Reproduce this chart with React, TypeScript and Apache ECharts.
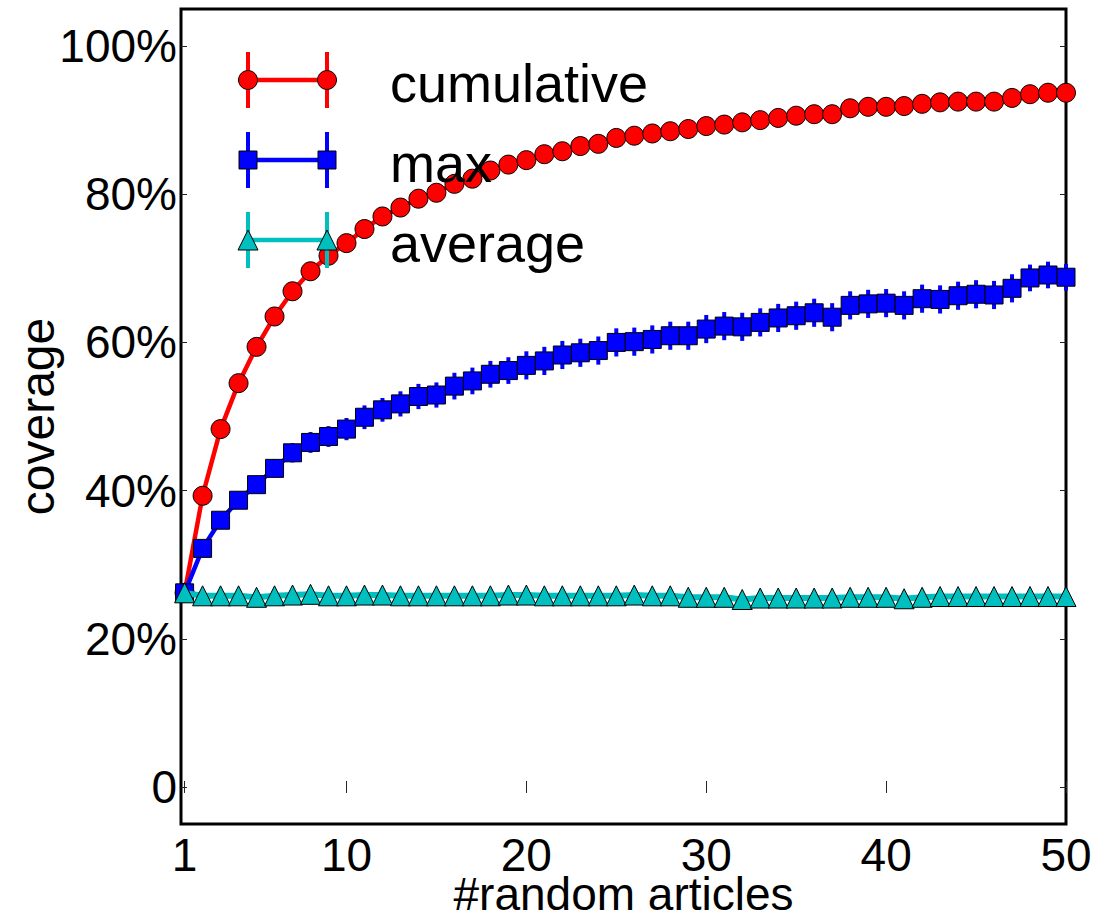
import React, { useEffect, useRef } from "react";
import * as echarts from "echarts";

const articles = [1, 2, 3, 4, 5, 6, 7, 8, 9, 10, 11, 12, 13, 14, 15, 16, 17, 18, 19, 20, 21, 22, 23, 24, 25, 26, 27, 28, 29, 30, 31, 32, 33, 34, 35, 36, 37, 38, 39, 40, 41, 42, 43, 44, 45, 46, 47, 48, 49, 50];

const cumulative = [26.2, 39.3, 48.3, 54.5, 59.4, 63.5, 66.9, 69.6, 71.7, 73.4, 75.3, 77.0, 78.2, 79.4, 80.2, 81.4, 82.1, 83.2, 84.0, 84.6, 85.4, 85.8, 86.5, 86.8, 87.6, 87.9, 88.2, 88.5, 88.8, 89.2, 89.4, 89.7, 90.0, 90.3, 90.6, 90.8, 90.8, 91.6, 91.8, 91.8, 91.9, 92.2, 92.4, 92.5, 92.5, 92.5, 93.0, 93.5, 93.7, 93.7];

const maxCov = [26.2, 32.2, 36.0, 38.7, 40.8, 43.0, 45.1, 46.5, 47.3, 48.3, 49.9, 50.9, 51.7, 52.7, 52.9, 54.1, 54.8, 55.7, 56.2, 56.9, 57.5, 58.3, 58.6, 58.9, 60.0, 60.1, 60.4, 60.9, 60.9, 61.8, 62.2, 62.1, 62.7, 63.3, 63.6, 64.0, 63.4, 65.0, 65.2, 65.3, 65.0, 65.9, 65.8, 66.3, 66.5, 66.4, 67.3, 68.7, 69.1, 68.8];

const maxErr = [0, 0.5, 0.8, 1.0, 1.1, 1.2, 1.3, 1.4, 1.4, 1.5, 1.6, 1.6, 1.7, 1.7, 1.7, 1.8, 1.8, 1.8, 1.8, 1.9, 1.9, 1.9, 1.9, 1.9, 1.9, 1.9, 1.9, 1.9, 1.9, 1.9, 1.9, 1.9, 1.9, 1.9, 1.9, 1.9, 1.9, 1.9, 1.9, 1.9, 1.9, 1.9, 1.9, 1.9, 1.9, 1.9, 1.9, 1.8, 1.8, 1.8];

const average = [26.2, 25.8, 25.8, 25.8, 25.6, 25.8, 25.9, 26.0, 25.8, 25.8, 25.9, 25.9, 25.8, 25.8, 25.8, 25.8, 25.8, 25.8, 25.9, 25.9, 25.8, 25.8, 25.8, 25.8, 25.8, 25.9, 25.8, 25.8, 25.6, 25.6, 25.6, 25.3, 25.5, 25.5, 25.5, 25.5, 25.5, 25.6, 25.6, 25.6, 25.4, 25.6, 25.7, 25.7, 25.7, 25.7, 25.7, 25.7, 25.7, 25.7];

const xTicks = [1, 10, 20, 30, 40, 50];
const yTicks = [0, 20, 40, 60, 80, 100];
const legendNames = ["cumulative", "max", "average"];

const RED = "#ff0000";
const BLUE = "#0000ff";
const CYAN = "#00bfbf";
const FONT = '"Liberation Sans", Arial, Helvetica, sans-serif';

export default function App() {
  const ref = useRef<HTMLDivElement>(null);

  useEffect(() => {
    if (!ref.current) return;
    const chart = echarts.init(ref.current, null, { renderer: "svg" });

    const tickStyle = { show: true, inside: true, length: 6, lineStyle: { color: "#222", width: 1 } };

    const lx1 = 248;
    const lx2 = 327;
    const rows = [80, 160, 240];
    const colors = [RED, BLUE, CYAN];
    const graphics: any[] = [];
    rows.forEach((cy, i) => {
      const c = colors[i];
      graphics.push({ type: "line", shape: { x1: lx1, y1: cy, x2: lx2, y2: cy }, style: { stroke: c, lineWidth: 4.5 }, z: 10 });
      [lx1, lx2].forEach((cx) => {
        graphics.push({ type: "line", shape: { x1: cx, y1: cy - 28, x2: cx, y2: cy + 28 }, style: { stroke: c, lineWidth: 4 }, z: 10 });
        if (i === 0) {
          graphics.push({ type: "circle", shape: { cx, cy, r: 9.5 }, style: { fill: c, stroke: "#000", lineWidth: 1 }, z: 11 });
        } else if (i === 1) {
          graphics.push({ type: "rect", shape: { x: cx - 9, y: cy - 9, width: 18, height: 18 }, style: { fill: c, stroke: "#000", lineWidth: 1 }, z: 11 });
        } else {
          graphics.push({ type: "polygon", shape: { points: [[cx, cy - 10], [cx - 10, cy + 10], [cx + 10, cy + 10]] }, style: { fill: c, stroke: "#000", lineWidth: 1 }, z: 11 });
        }
      });
      graphics.push({
        type: "text",
        x: 390,
        y: cy + 3,
        style: { text: legendNames[i], fill: "#000", font: `54px ${FONT}`, verticalAlign: "middle", align: "left" },
        z: 12,
      });
    });

    const errData = articles.map((x, i) => [x, maxCov[i] - maxErr[i], maxCov[i] + maxErr[i]]);

    chart.setOption({
      animation: false,
      backgroundColor: "#fff",
      textStyle: { fontFamily: FONT },
      grid: {
        left: 181,
        right: 35,
        top: 9,
        bottom: 93,
        containLabel: false,
        outerBoundsMode: "none",
        show: true,
        borderColor: "#000",
        borderWidth: 3,
        backgroundColor: "#fff",
      },
      xAxis: [
        {
          type: "value",
          min: 0.8,
          max: 50,
          position: "bottom",
          axisLine: { show: false },
          splitLine: { show: false },
          axisTick: { ...tickStyle, customValues: xTicks },
          axisLabel: { customValues: xTicks, color: "#000", fontSize: 46, lineHeight: 38, fontFamily: FONT, margin: 12 },
          name: "#random articles",
          nameLocation: "middle",
          nameGap: 50,
          nameMoveOverlap: false,
          nameTextStyle: { color: "#000", fontSize: 46, lineHeight: 40, fontFamily: FONT },
        },
        {
          type: "value",
          min: 0.8,
          max: 50,
          position: "top",
          axisLine: { show: false },
          splitLine: { show: false },
          axisTick: { ...tickStyle, customValues: xTicks },
          axisLabel: { show: false, customValues: xTicks },
        },
      ],
      yAxis: [
        {
          type: "value",
          min: -5,
          max: 105,
          position: "left",
          axisLine: { show: false },
          splitLine: { show: false },
          axisTick: { ...tickStyle, customValues: yTicks },
          axisLabel: {
            customValues: yTicks,
            color: "#000",
            fontSize: 46,
            fontFamily: FONT,
            margin: 4,
            formatter: (v: number) => (Math.abs(v) < 1e-9 ? "0" : `${Math.round(v)}%`),
          },
          name: "coverage",
          nameLocation: "middle",
          nameGap: 120,
          nameMoveOverlap: false,
          nameRotate: 90,
          nameTextStyle: { color: "#000", fontSize: 48, fontFamily: FONT },
        },
        {
          type: "value",
          min: -5,
          max: 105,
          position: "right",
          axisLine: { show: false },
          splitLine: { show: false },
          axisTick: { ...tickStyle, customValues: yTicks },
          axisLabel: { show: false, customValues: yTicks },
        },
      ],
      graphic: graphics,
      series: [
        {
          name: "cumulative",
          type: "line",
          data: articles.map((x, i) => [x, cumulative[i]]),
          xAxisIndex: 0,
          yAxisIndex: 0,
          z: 2,
          showAllSymbol: true,
          symbol: "circle",
          symbolSize: 19,
          lineStyle: { color: RED, width: 4.5 },
          itemStyle: { color: RED, borderColor: "#000", borderWidth: 1 },
          silent: true,
        },
        {
          name: "maxErr",
          type: "custom",
          xAxisIndex: 0,
          yAxisIndex: 0,
          z: 3,
          silent: true,
          data: errData,
          renderItem: (params: any, api: any) => {
            const x = api.value(0);
            const p1 = api.coord([x, api.value(1)]);
            const p2 = api.coord([x, api.value(2)]);
            return {
              type: "line",
              shape: { x1: p1[0], y1: p1[1], x2: p2[0], y2: p2[1] },
              style: { stroke: BLUE, lineWidth: 4 },
            };
          },
        },
        {
          name: "max",
          type: "line",
          data: articles.map((x, i) => [x, maxCov[i]]),
          xAxisIndex: 0,
          yAxisIndex: 0,
          z: 4,
          showAllSymbol: true,
          symbol: "rect",
          symbolSize: 18,
          lineStyle: { color: BLUE, width: 4.5 },
          itemStyle: { color: BLUE, borderColor: "#000", borderWidth: 1 },
          silent: true,
        },
        {
          name: "average",
          type: "line",
          data: articles.map((x, i) => [x, average[i]]),
          xAxisIndex: 0,
          yAxisIndex: 0,
          z: 5,
          showAllSymbol: true,
          symbol: "triangle",
          symbolSize: 20,
          lineStyle: { color: CYAN, width: 6 },
          itemStyle: { color: CYAN, borderColor: "#000", borderWidth: 1 },
          silent: true,
        },
      ],
    });

    return () => chart.dispose();
  }, []);

  return <div ref={ref} style={{ position: "absolute", left: 0, top: 0, width: 1101, height: 917 }} />;
}
